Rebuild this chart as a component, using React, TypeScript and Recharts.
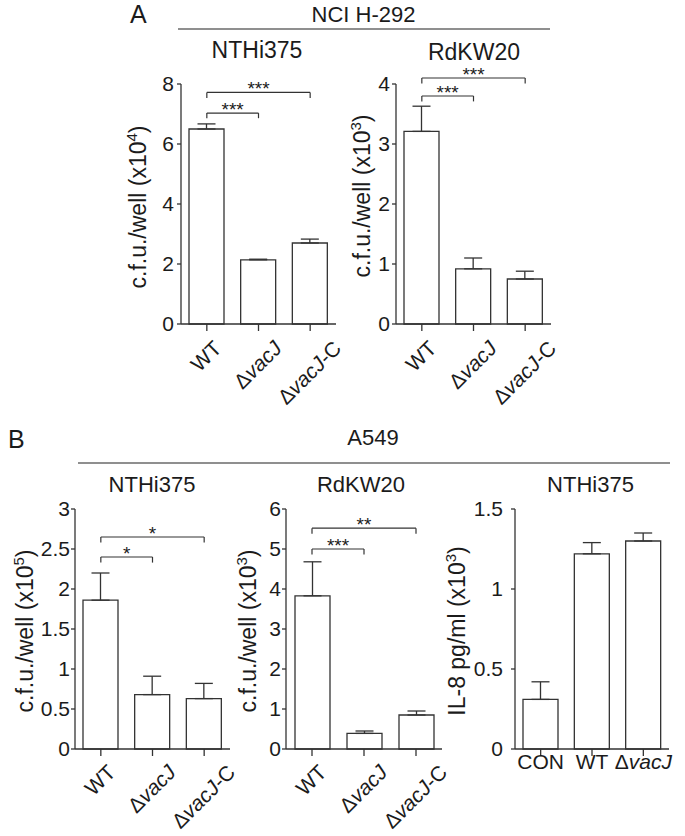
import React from 'react';
import { BarChart, Bar, XAxis, YAxis, ErrorBar, ReferenceLine } from 'recharts';

const FONT = '"Liberation Sans", Arial, Helvetica, sans-serif';
const INK = '#1b1b1b';
const AXIS = '#333333';
const RULE = '#6a6a6a';

// categories
const strainCats = ['WT', 'ΔvacJ', 'ΔvacJ-C'];
const il8Cats = ['CON', 'WT', 'ΔvacJ'];

// A: NCI H-292, NTHi375, c.f.u./well (x10^4)
const a1Mean = [6.5, 2.14, 2.7];
const a1Sem = [0.17, 0.02, 0.13];
// A: NCI H-292, RdKW20, c.f.u./well (x10^3)
const a2Mean = [3.21, 0.92, 0.75];
const a2Sem = [0.42, 0.18, 0.13];
// B: A549, NTHi375, c.f.u./well (x10^5)
const b1Mean = [1.86, 0.68, 0.63];
const b1Sem = [0.34, 0.23, 0.19];
// B: A549, RdKW20, c.f.u./well (x10^3)
const b2Mean = [3.83, 0.39, 0.85];
const b2Sem = [0.85, 0.06, 0.1];
// B: A549, NTHi375, IL-8 pg/ml (x10^3)
const b3Mean = [0.31, 1.22, 1.3];
const b3Sem = [0.11, 0.07, 0.05];

// tick labels
const a1Ticks = [0, 2, 4, 6, 8];
const a2Ticks = [0, 1, 2, 3, 4];
const b1Ticks = [0, 0.5, 1, 1.5, 2, 2.5, 3];
const b2Ticks = [0, 1, 2, 3, 4, 5, 6];
const b3Ticks = [0, 0.5, 1, 1.5];

type Sig = { from: string; to: string; top: number; arm: number; stars: string };

// significance brackets
const a1Sig: Sig[] = [
  { from: 'WT', to: 'ΔvacJ', top: 7.03, arm: 6.86, stars: '***' },
  { from: 'WT', to: 'ΔvacJ-C', top: 7.72, arm: 7.53, stars: '***' },
];
const a2Sig: Sig[] = [
  { from: 'WT', to: 'ΔvacJ', top: 3.8, arm: 3.71, stars: '***' },
  { from: 'WT', to: 'ΔvacJ-C', top: 4.1, arm: 4.01, stars: '***' },
];
const b1Sig: Sig[] = [
  { from: 'WT', to: 'ΔvacJ', top: 2.4, arm: 2.33, stars: '*' },
  { from: 'WT', to: 'ΔvacJ-C', top: 2.65, arm: 2.58, stars: '*' },
];
const b2Sig: Sig[] = [
  { from: 'WT', to: 'ΔvacJ', top: 5.0, arm: 4.86, stars: '***' },
  { from: 'WT', to: 'ΔvacJ-C', top: 5.52, arm: 5.38, stars: '**' },
];
const b3Sig: Sig[] = [];

// approximate label lengths in em (for placing rotated labels)
const EM_LEN: Record<string, number> = { WT: 1.555, 'ΔvacJ': 2.724, 'ΔvacJ-C': 3.779, CON: 2.222 };

function nameParts(name: string) {
  if (name.startsWith('Δ')) {
    const tail = name.slice(5);
    return [
      <tspan key="d">Δ</tspan>,
      <tspan key="i" fontStyle="italic">vacJ</tspan>,
      tail ? <tspan key="t">{tail}</tspan> : null,
    ];
  }
  return name;
}

interface PanelProps {
  cats: string[];
  means: number[];
  errs: number[];
  yMax: number;
  yTicks: number[];
  plotLeft: number;
  plotTop: number;
  plotW: number;
  plotH: number;
  tickGap: number;
  yLabel: string;
  yExp: string;
  yLabelX: number;
  yLabelY: number;
  sig: Sig[];
  flat?: boolean;
  topOff: number;
}

const OL = 110;
const OT = 40;
const OR = 15;
const XH = 60;
const MB = 40;
const XFS = 21;

function Panel(p: PanelProps) {
  const W = p.plotW + OL + OR;
  const H = p.plotH + OT + XH + MB;
  const data = p.cats.map((c, i) => ({ name: c, v: p.means[i], e: [0, p.errs[i]] }));
  const axisY = OT + p.plotH;
  const labX = p.yLabelX - (p.plotLeft - OL);
  const labY = p.yLabelY - (p.plotTop - OT);

  const renderXTick = (t: any) => {
    const x = t.x;
    const name = t.payload.value;
    if (p.flat) {
      return (
        <text x={x} y={axisY + 19.5} textAnchor="middle" fontSize={XFS} fill={INK} fontFamily={FONT}>
          {nameParts(name)}
        </text>
      );
    }
    const L = (EM_LEN[name] || 2) * XFS;
    const cx = x - 1;
    const cy = axisY + p.topOff + 0.354 * (L + 15);
    return (
      <text
        x={cx}
        y={cy}
        dy="0.36em"
        textAnchor="middle"
        transform={`rotate(-45 ${cx} ${cy})`}
        fontSize={XFS}
        fill={INK}
        fontFamily={FONT}
      >
        {nameParts(name)}
      </text>
    );
  };

  const renderYLabel = () => (
    <text
      x={labX}
      y={labY}
      dy="0.36em"
      textAnchor="middle"
      transform={`rotate(-90 ${labX} ${labY})`}
      fontSize={23}
      fill={INK}
      fontFamily={FONT}
    >
      {p.yLabel}
      <tspan fontSize={15} dy={-9}>{p.yExp}</tspan>
      <tspan dy={9}>)</tspan>
    </text>
  );

  return (
    <div style={{ position: 'absolute', left: p.plotLeft - OL, top: p.plotTop - OT, width: W, height: H }}>
      <BarChart width={W} height={H} data={data} margin={{ top: OT, right: OR, bottom: MB, left: OL - 60 }}>
        <XAxis
          dataKey="name"
          height={XH}
          interval={0}
          tick={renderXTick}
          tickSize={7}
          axisLine={{ stroke: AXIS, strokeWidth: 1.3 }}
          tickLine={{ stroke: AXIS, strokeWidth: 1.3 }}
        />
        <YAxis
          width={60}
          domain={[0, p.yMax]}
          ticks={p.yTicks}
          interval={0}
          tickSize={4}
          tickMargin={p.tickGap}
          tick={{ fontSize: 21, fill: INK, fontFamily: FONT }}
          axisLine={{ stroke: AXIS, strokeWidth: 1.3 }}
          tickLine={{ stroke: AXIS, strokeWidth: 1.3 }}
          label={renderYLabel}
        />
        <Bar dataKey="v" fill="#ffffff" stroke={AXIS} strokeWidth={1.3} barSize={35} isAnimationActive={false}>
          <ErrorBar dataKey="e" width={9} stroke={AXIS} strokeWidth={1.3} direction="y" />
        </Bar>
        {p.sig.map((s, i) => (
          <ReferenceLine
            key={`h${i}`}
            segment={[{ x: s.from, y: s.top }, { x: s.to, y: s.top }]}
            stroke={AXIS}
            strokeWidth={1.2}
            ifOverflow="visible"
            label={(lp: any) => {
              const vb = lp.viewBox || {};
              return (
                <text
                  x={(vb.x || 0) + (vb.width || 0) / 2}
                  y={(vb.y || 0) + 3}
                  textAnchor="middle"
                  fontSize={19}
                  fill={INK}
                  fontFamily={FONT}
                >
                  {s.stars}
                </text>
              );
            }}
          />
        ))}
        {p.sig.map((s, i) => (
          <ReferenceLine
            key={`l${i}`}
            segment={[{ x: s.from, y: s.arm }, { x: s.from, y: s.top }]}
            stroke={AXIS}
            strokeWidth={1.2}
            ifOverflow="visible"
          />
        ))}
        {p.sig.map((s, i) => (
          <ReferenceLine
            key={`r${i}`}
            segment={[{ x: s.to, y: s.arm }, { x: s.to, y: s.top }]}
            stroke={AXIS}
            strokeWidth={1.2}
            ifOverflow="visible"
          />
        ))}
      </BarChart>
    </div>
  );
}

export default function App() {
  return (
    <div
      style={{
        position: 'absolute',
        left: 0,
        top: 0,
        width: 685,
        height: 836,
        background: '#ffffff',
        overflow: 'hidden',
        fontFamily: FONT,
      }}
    >
      <Panel
        cats={strainCats}
        means={a1Mean}
        errs={a1Sem}
        yMax={8}
        yTicks={a1Ticks}
        plotLeft={181}
        plotTop={84}
        plotW={155}
        plotH={240}
        tickGap={3}
        yLabel="c.f.u./well (x10"
        yExp="4"
        yLabelX={138}
        yLabelY={207}
        sig={a1Sig}
        topOff={15}
      />
      <Panel
        cats={strainCats}
        means={a2Mean}
        errs={a2Sem}
        yMax={4}
        yTicks={a2Ticks}
        plotLeft={396}
        plotTop={84}
        plotW={155}
        plotH={240}
        tickGap={2}
        yLabel="c.f.u./well (x10"
        yExp="3"
        yLabelX={362}
        yLabelY={196}
        sig={a2Sig}
        topOff={15}
      />
      <Panel
        cats={strainCats}
        means={b1Mean}
        errs={b1Sem}
        yMax={3}
        yTicks={b1Ticks}
        plotLeft={75}
        plotTop={509}
        plotW={155}
        plotH={240}
        tickGap={1}
        yLabel="c.f.u./well (x10"
        yExp="5"
        yLabelX={25}
        yLabelY={631}
        sig={b1Sig}
        topOff={14}
      />
      <Panel
        cats={strainCats}
        means={b2Mean}
        errs={b2Sem}
        yMax={6}
        yTicks={b2Ticks}
        plotLeft={286}
        plotTop={509}
        plotW={156}
        plotH={240}
        tickGap={1}
        yLabel="c.f.u./well (x10"
        yExp="3"
        yLabelX={248}
        yLabelY={631}
        sig={b2Sig}
        topOff={14}
      />
      <Panel
        cats={il8Cats}
        means={b3Mean}
        errs={b3Sem}
        yMax={1.5}
        yTicks={b3Ticks}
        plotLeft={515}
        plotTop={509}
        plotW={154}
        plotH={240}
        tickGap={8}
        yLabel="IL-8 pg/ml (x10"
        yExp="3"
        yLabelX={457}
        yLabelY={631}
        sig={b3Sig}
        flat
        topOff={0}
      />
      <svg
        width={685}
        height={836}
        style={{ position: 'absolute', left: 0, top: 0, pointerEvents: 'none' }}
        fontFamily={FONT}
        fill={INK}
      >
        <text x={130} y={23} fontSize={25}>A</text>
        <text x={363.5} y={22} fontSize={22} textAnchor="middle">NCI H-292</text>
        <line x1={178} y1={29} x2={550} y2={29} stroke={RULE} strokeWidth={1.5} />
        <text x={257} y={58} fontSize={23} textAnchor="middle">NTHi375</text>
        <text x={474} y={60} fontSize={23} textAnchor="middle">RdKW20</text>

        <text x={8} y={448} fontSize={25}>B</text>
        <text x={373} y={445} fontSize={22} textAnchor="middle">A549</text>
        <line x1={78} y1={463} x2={670} y2={463} stroke={RULE} strokeWidth={1.5} />
        <text x={152} y={491.5} fontSize={22} textAnchor="middle">NTHi375</text>
        <text x={361} y={491.5} fontSize={22} textAnchor="middle">RdKW20</text>
        <text x={590.5} y={491.5} fontSize={22} textAnchor="middle">NTHi375</text>
      </svg>
    </div>
  );
}
